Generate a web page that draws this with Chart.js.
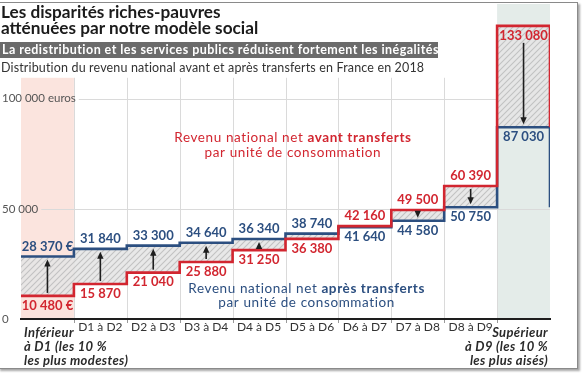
<!DOCTYPE html>
<html lang="fr">
<head>
<meta charset="utf-8">
<script src="https://cdn.jsdelivr.net/npm/chart.js@4.4.1/dist/chart.umd.min.js"></script>
<style>
  html, body { margin: 0; padding: 0; background: #fff; }
  body { width: 583px; height: 376px; position: relative; overflow: hidden; font-family: Lato, sans-serif; }
  #cadre { position: absolute; left: -2px; top: 2px; width: 578px; height: 365px; border: 1px solid #8a8a8a;
           box-shadow: 2px 2px 2px rgba(0,0,0,0.35); background: #fff; }
  #graph { position: absolute; left: 0; top: 0; }
  .titre { position: absolute; left: 1px; top: 4px; font-size: 17.2px; font-weight: 700; line-height: 16px; color: #1b1b1b; }
  .bandeau { position: absolute; left: 0; top: 42px; width: 436px; height: 16px; padding-left: 2px; background: #6b6b6b;
             color: #fff; font-size: 12.5px; font-weight: 700; line-height: 16px; white-space: nowrap; letter-spacing: 0.45px; }
  .source { position: absolute; left: 1px; top: 60px; font-size: 12.5px; color: #333; white-space: nowrap; letter-spacing: 0.15px; }
</style>
</head>
<body>
<div id="cadre"></div>
<canvas id="graph" width="583" height="376"></canvas>
<div class="titre">Les disparités riches-pauvres<br>atténuées par notre modèle social</div>
<div class="bandeau">La redistribution et les services publics réduisent fortement les inégalités</div>
<div class="source">Distribution du revenu national avant et après transferts en France en 2018</div>

<script>
// --- DONNÉES ---
const categories = [
    ['Inférieur', 'à D1 (les 10 %', 'les plus modestes)'],
    'D1 à D2', 'D2 à D3', 'D3 à D4', 'D4 à D5', 'D5 à D6', 'D6 à D7', 'D7 à D8', 'D8 à D9',
    ['Supérieur', 'à D9 (les 10 %', 'les plus aisés)']
];
const avantTransferts = [10480, 15870, 21040, 25880, 31250, 36380, 42160, 49500, 60390, 133080];
const apresTransferts = [28370, 31840, 33300, 34640, 36340, 38740, 41640, 44580, 50750, 87030];
const yTicks = [0, 50000, 100000];
const yTickLabels = ['0', '50 000', '100 000 euros'];

// --- STYLES ---
const ROUGE = '#d22630';
const BLEU = '#2c4f80';
const HAUT_GRILLE = 109500;   // hauteur où s'arrêtent les lignes verticales
const POLICE_Y = '11.5px Lato';

const fmt = (v) => String(v).replace(/\B(?=(\d{3})+(?!\d))/g, ' ');

// motif hachuré pour la zone entre les deux courbes
function hachures() {
    const c = document.createElement('canvas');
    c.width = 6; c.height = 6;
    const g = c.getContext('2d');
    g.fillStyle = 'rgba(230,230,230,0.9)';
    g.fillRect(0, 0, 6, 6);
    g.strokeStyle = '#c2c2c2';
    g.lineWidth = 1.1;
    g.beginPath();
    g.moveTo(0, 6); g.lineTo(6, 0);
    g.moveTo(-1, 1); g.lineTo(1, -1);
    g.moveTo(5, 7); g.lineTo(7, 5);
    g.stroke();
    return g.createPattern(c, 'repeat');
}

// points en escalier : une marche par tranche
const marches = (vals) => vals.map((v, i) => ({ x: i, y: v })).concat([{ x: vals.length, y: vals[vals.length - 1] }]);
const n = categories.length;

// ─────────────────────────────────────────────
// Décor : bandes colorées + grille
// ─────────────────────────────────────────────
const decor = {
    id: 'decor',
    beforeDraw(chart) {
        const { ctx, chartArea: a, scales: { x, y } } = chart;
        const haut = y.getPixelForValue(HAUT_GRILLE);
        ctx.save();
        ctx.fillStyle = '#fbe4de';
        ctx.fillRect(x.getPixelForValue(0), haut, x.getPixelForValue(1) - x.getPixelForValue(0), a.bottom - haut);
        ctx.fillStyle = '#e4ece9';
        ctx.fillRect(x.getPixelForValue(n - 1), a.top, x.getPixelForValue(n) - x.getPixelForValue(n - 1), a.bottom - a.top);

        ctx.strokeStyle = '#dadada';
        ctx.lineWidth = 1;
        ctx.beginPath();
        for (let i = 1; i < n; i++) {
            const px = Math.round(x.getPixelForValue(i)) + 0.5;
            ctx.moveTo(px, haut);
            ctx.lineTo(px, a.bottom);
        }
        ctx.font = POLICE_Y;
        yTicks.forEach((v, k) => {
            if (!v) return;
            const py = Math.round(y.getPixelForValue(v)) + 0.5;
            ctx.moveTo(y.left + ctx.measureText(yTickLabels[k]).width + 3, py);
            ctx.lineTo(a.right, py);
        });
        ctx.stroke();

        // petites graduations sous l'axe
        ctx.strokeStyle = '#999';
        ctx.beginPath();
        for (let i = 1; i < n; i++) {
            const px = Math.round(x.getPixelForValue(i)) + 0.5;
            ctx.moveTo(px, a.bottom + 1);
            ctx.lineTo(px, a.bottom + 4);
        }
        ctx.stroke();
        ctx.restore();
    }
};

// ─────────────────────────────────────────────
// Annotations : flèches, valeurs, légendes
// ─────────────────────────────────────────────
const POLICE_LEGENDE = '13.5px Lato';
function texteMixte(ctx, cx, cy, normal, gras, couleur) {
    ctx.letterSpacing = '0.6px';
    ctx.font = POLICE_LEGENDE;
    const w1 = ctx.measureText(normal).width;
    ctx.font = 'bold ' + POLICE_LEGENDE;
    const w2 = ctx.measureText(gras).width;
    const px = cx - (w1 + w2) / 2;
    ctx.fillStyle = couleur;
    ctx.textAlign = 'left';
    ctx.font = POLICE_LEGENDE;
    ctx.fillText(normal, px, cy);
    ctx.font = 'bold ' + POLICE_LEGENDE;
    ctx.fillText(gras, px + w1, cy);
}

function texteCentre(ctx, cx, cy, texte, couleur) {
    ctx.letterSpacing = '0.6px';
    ctx.font = POLICE_LEGENDE;
    ctx.fillStyle = couleur;
    ctx.textAlign = 'center';
    ctx.fillText(texte, cx, cy);
}

const annotations = {
    id: 'annotations',
    afterDatasetsDraw(chart) {
        const { ctx, chartArea: a, scales: { x, y } } = chart;
        ctx.save();

        // flèches
        ctx.strokeStyle = '#1e1e1e';
        ctx.fillStyle = '#1e1e1e';
        ctx.lineWidth = 1.6;
        avantTransferts.forEach((av, i) => {
            const ap = apresTransferts[i];
            if (Math.abs(ap - av) < 3000) return;
            const px = x.getPixelForValue(i + 0.5);
            const pr = y.getPixelForValue(av);
            const pb = y.getPixelForValue(ap);
            const s = pb < pr ? -1 : 1;
            const queue = pr + s * (i === n - 1 ? 17 : 3);
            const pointe = pb - s * 3;
            ctx.beginPath();
            ctx.moveTo(px, queue);
            ctx.lineTo(px, pointe - s * 5);
            ctx.stroke();
            ctx.beginPath();
            ctx.moveTo(px, pointe);
            ctx.lineTo(px - 3.2, pointe - s * 7);
            ctx.lineTo(px + 3.2, pointe - s * 7);
            ctx.closePath();
            ctx.fill();
        });

        // valeurs
        ctx.font = 'bold 13px Lato';
        ctx.textAlign = 'center';
        ctx.textBaseline = 'middle';
        avantTransferts.forEach((av, i) => {
            const ap = apresTransferts[i];
            const px = x.getPixelForValue(i + 0.5);
            const suffixe = i === 0 ? ' €' : '';
            const dernier = i === n - 1;
            const rougeDessus = !dernier && av > ap;
            const bleuDessus = !dernier && ap > av;
            ctx.fillStyle = ROUGE;
            ctx.fillText(fmt(av) + suffixe, px, y.getPixelForValue(av) + (rougeDessus ? -10 : 9.5));
            ctx.fillStyle = BLEU;
            ctx.fillText(fmt(ap) + suffixe, px, y.getPixelForValue(ap) + (bleuDessus ? -10 : 10));
        });

        // légendes dans le graphique
        texteMixte(ctx, x.getPixelForValue(5.14), y.getPixelForValue(82400), 'Revenu national net ', 'avant transferts', ROUGE);
        texteCentre(ctx, x.getPixelForValue(5.14), y.getPixelForValue(75600), 'par unité de consommation', ROUGE);
        texteMixte(ctx, x.getPixelForValue(5.4), y.getPixelForValue(14000), 'Revenu national net ', 'après transferts', BLEU);
        texteCentre(ctx, x.getPixelForValue(5.4), y.getPixelForValue(7600), 'par unité de consommation', BLEU);

        // libellés des tranches extrêmes
        ctx.letterSpacing = '0.35px';
        ctx.font = 'italic bold 13px Lato';
        ctx.fillStyle = '#2a2a2a';
        ctx.textBaseline = 'middle';
        ctx.textAlign = 'left';
        categories[0].forEach((l, k) => ctx.fillText(l, a.left + 3, a.bottom + 14 + k * 14));
        ctx.textAlign = 'right';
        categories[n - 1].forEach((l, k) => ctx.fillText(l, a.right - 2, a.bottom + 14 + k * 14));
        ctx.restore();
    }
};

const ctx = document.getElementById('graph').getContext('2d');

new Chart(ctx, {
    type: 'line',
    data: {
        datasets: [
            {
                label: 'Avant transferts',
                data: marches(avantTransferts).concat([{ x: n, y: apresTransferts[n - 1] }]),
                borderColor: ROUGE,
                borderWidth: 2.6,
                stepped: true,
                pointRadius: 0,
                fill: false
            },
            {
                label: 'Après transferts',
                data: marches(apresTransferts).concat([{ x: n, y: apresTransferts[n - 2] }]),
                borderColor: BLEU,
                borderWidth: 2.6,
                stepped: true,
                pointRadius: 0,
                fill: false
            },
            {
                label: 'écart',
                data: marches(avantTransferts),
                borderWidth: 0,
                stepped: true,
                pointRadius: 0,
                backgroundColor: hachures(),
                fill: '+1'
            },
            {
                label: 'écart (cible)',
                data: marches(apresTransferts),
                borderWidth: 0,
                stepped: true,
                pointRadius: 0,
                fill: false
            }
        ]
    },
    options: {
        responsive: false,
        animation: false,
        layout: { padding: { left: 2, right: 33, top: 4, bottom: 0 } },
        plugins: {
            legend: { display: false },
            tooltip: { enabled: false },
            filler: { drawTime: 'beforeDatasetsDraw' }
        },
        scales: {
            x: {
                type: 'linear',
                min: 0,
                max: n,
                grid: { display: false, drawTicks: false },
                border: { display: true, color: '#1e1e1e', width: 2 },
                afterBuildTicks: (s) => { s.ticks = categories.map((c, i) => ({ value: i + 0.5 })); },
                afterFit: (s) => { s.height = 57; },
                ticks: {
                    autoSkip: false,
                    maxRotation: 0,
                    padding: 1,
                    color: '#333',
                    font: { family: 'Lato', size: 12 },
                    callback: (v, i) => typeof categories[i] === 'string' ? categories[i] : ''
                }
            },
            y: {
                min: 0,
                max: 143000,
                grid: { display: false, drawTicks: false },
                border: { display: false },
                afterBuildTicks: (s) => { s.ticks = yTicks.map(v => ({ value: v })); },
                afterFit: (s) => { s.width = 19; },
                ticks: {
                    mirror: true,
                    padding: -19,
                    color: '#555',
                    font: { family: 'Lato', size: 11.5 },
                    callback: (v) => yTickLabels[yTicks.indexOf(v)]
                }
            }
        }
    },
    plugins: [decor, annotations]
});
</script>
</body>
</html>
